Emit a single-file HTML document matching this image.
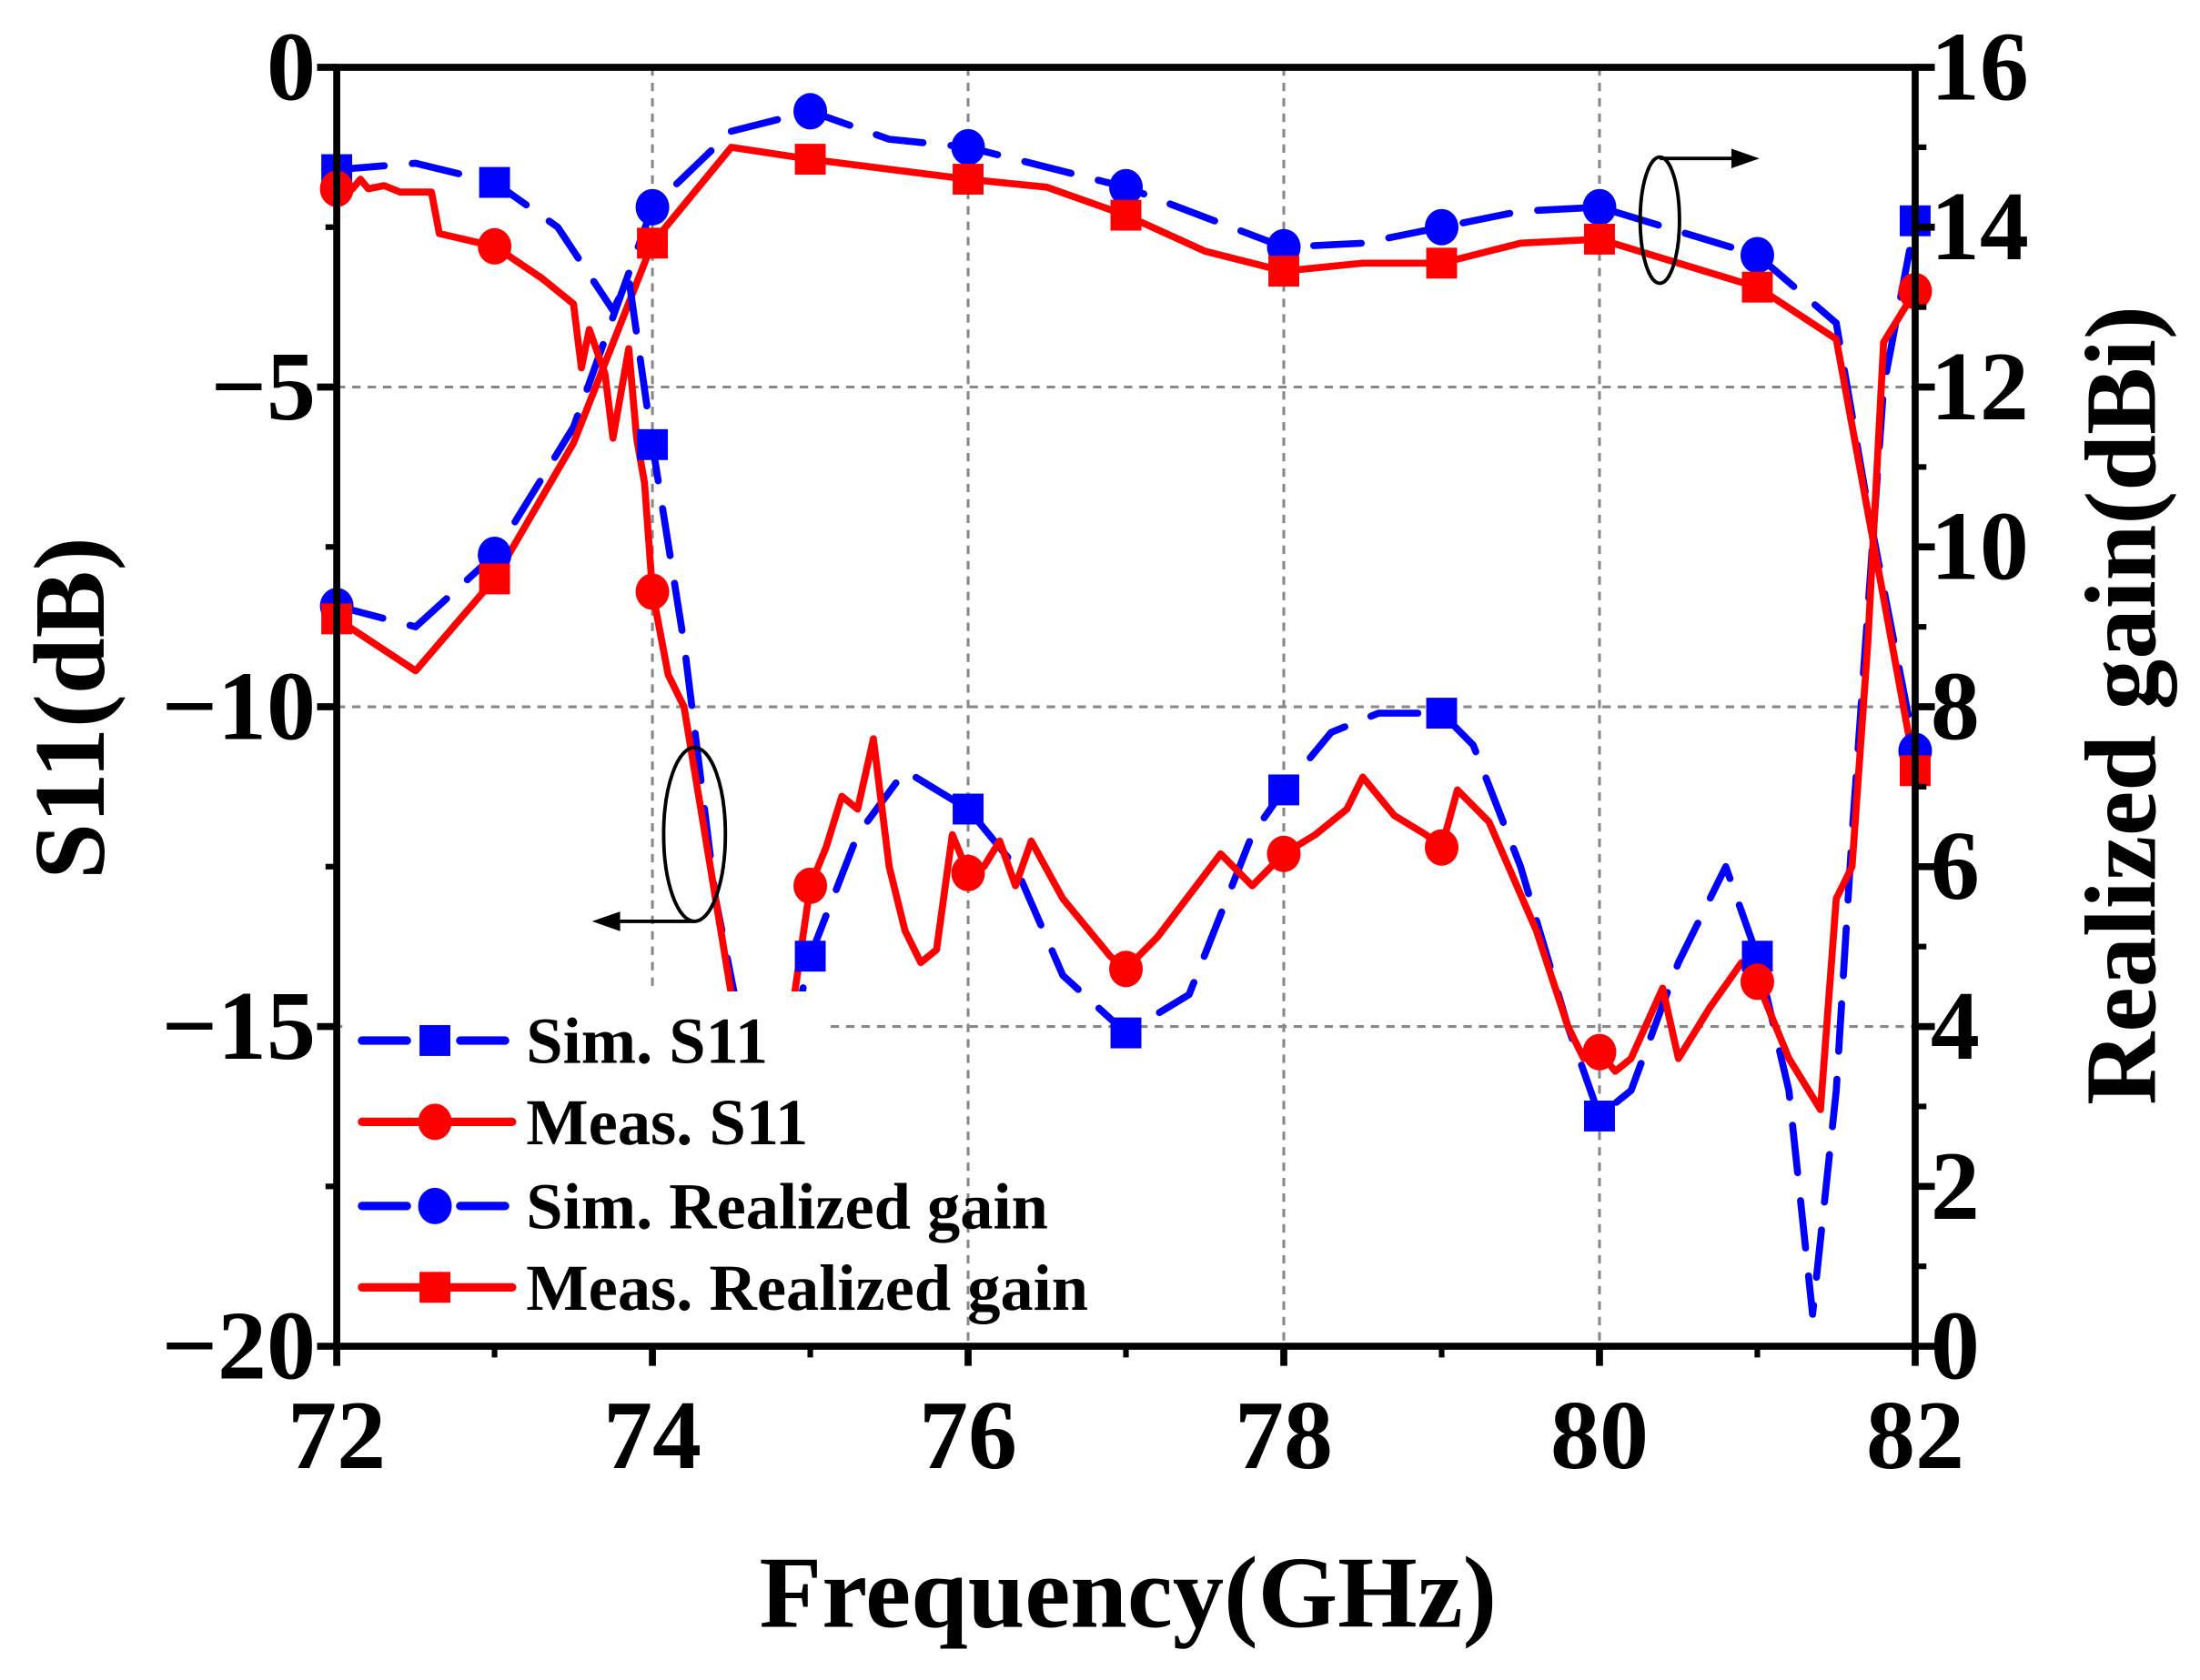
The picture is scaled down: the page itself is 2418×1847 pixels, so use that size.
<!DOCTYPE html>
<html><head><meta charset="utf-8"><style>
html,body{margin:0;padding:0;background:#fff;}
svg{display:block;}
text{font-family:"Liberation Serif",serif;font-weight:bold;fill:#000;}
</style></head><body>
<svg id="s" width="2418" height="1847" viewBox="0 0 1568 1198" preserveAspectRatio="none" xmlns="http://www.w3.org/2000/svg">
<g id="grid" stroke="#888" stroke-width="2" stroke-dasharray="6,5"></g>
<g id="series"></g>
<rect x="244" y="707" width="346" height="251" fill="#fff"/>
<g id="legend"></g>
<g id="axes" stroke="#000" fill="none"></g>
<g id="labels"></g>
<ellipse cx="495" cy="595" rx="22" ry="62" fill="none" stroke="#000" stroke-width="2.5"/>
<line x1="495" y1="657" x2="440" y2="657" stroke="#000" stroke-width="2.5"/>
<polygon points="422,657 442,650 442,664" fill="#000"/>
<ellipse cx="1183" cy="157" rx="14" ry="45" fill="none" stroke="#000" stroke-width="2.5"/>
<line x1="1183" y1="113" x2="1236" y2="113" stroke="#000" stroke-width="2.5"/>
<polygon points="1254,113 1234,106 1234,120" fill="#000"/>
<text x="50" y="505" font-size="72" text-anchor="middle" transform="rotate(-90 50 505)" dy="24">S11(dB)</text>
<text x="1512" y="503" font-size="72" text-anchor="middle" transform="rotate(-90 1512 503)" dy="24">Realized gain(dBi)</text>
<text x="804" y="1160" font-size="73" text-anchor="middle">Frequency(GHz)</text>
</svg>
<script>
const NS="http://www.w3.org/2000/svg";
const L=240,R=1365,T=48,B=960;
const X=f=>L+(f-72)*112.5, YS=d=>T-d*45.6, YG=g=>B-g*57;
function el(p,tag,a,txt){const e=document.createElementNS(NS,tag);for(const k in a)e.setAttribute(k,a[k]);if(txt!==undefined)e.textContent=txt;document.getElementById(p).appendChild(e);return e;}
[74,76,78,80].forEach(f=>el("grid","line",{x1:X(f),y1:T,x2:X(f),y2:B}));
[-5,-10,-15].forEach(d=>el("grid","line",{x1:L,y1:YS(d),x2:R,y2:YS(d)}));
const simS=[[72,-1.6],[72.5,-1.5],[73,-1.8],[73.4,-2.5],[73.75,-3.8],[73.85,-3.3],[74,-5.9],[74.2,-9],[74.4,-13],[74.6,-15.5],[74.9,-15],[75,-13.9],[75.3,-12],[75.6,-11],[76,-11.6],[76.3,-12.5],[76.6,-14.2],[77,-15.1],[77.4,-14.5],[77.8,-12],[78,-11.3],[78.3,-10.4],[78.6,-10.1],[79,-10.1],[79.2,-10.6],[79.5,-12.5],[79.8,-15],[80,-16.4],[80.2,-16],[80.5,-14],[80.8,-12.5],[81,-13.9],[81.2,-16],[81.35,-19.5],[81.5,-16],[81.6,-12],[81.8,-5],[82,-2.4]];
const meaS=[[72,-1.9],[72.05,-1.8],[72.1,-1.9],[72.15,-1.75],[72.2,-1.9],[72.3,-1.85],[72.4,-1.95],[72.6,-1.95],[72.65,-2.6],[73,-2.8],[73.3,-3.3],[73.5,-3.7],[73.55,-4.7],[73.6,-4.1],[73.7,-4.8],[73.75,-5.8],[73.85,-4.4],[73.9,-5.8],[73.95,-6.5],[74,-8.2],[74.1,-9.5],[74.2,-10],[74.3,-11.5],[74.4,-13],[74.5,-14.5],[74.6,-16],[74.8,-16],[74.9,-14.5],[75,-12.8],[75.1,-12.2],[75.2,-11.4],[75.3,-11.6],[75.4,-10.5],[75.5,-12.5],[75.6,-13.5],[75.7,-14],[75.8,-13.8],[75.9,-12],[76,-12.6],[76.1,-12.5],[76.2,-12.1],[76.3,-12.8],[76.4,-12.1],[76.6,-13],[76.9,-13.9],[77,-14.1],[77.2,-13.6],[77.6,-12.3],[77.8,-12.8],[78,-12.3],[78.2,-12],[78.4,-11.6],[78.5,-11.1],[78.7,-11.7],[78.9,-12],[79,-12.2],[79.1,-11.3],[79.3,-11.8],[79.6,-13.5],[79.8,-15],[79.9,-15.5],[80,-15.4],[80.1,-15.7],[80.2,-15.5],[80.4,-14.4],[80.5,-15.5],[80.7,-14.7],[80.9,-14],[81,-14.3],[81.1,-14.9],[81.2,-15.5],[81.4,-16.3],[81.5,-13],[81.6,-12.5],[81.7,-9],[81.8,-4.3],[82,-3.5]];
const simG=[[72,9.26],[72.5,9],[73,9.9],[73.5,11.5],[74,14.25],[74.5,15.2],[75,15.45],[75.5,15.1],[76,15.0],[77,14.5],[78,13.75],[78.5,13.8],[79,14.0],[79.5,14.2],[80,14.25],[81,13.65],[81.5,12.8],[81.7,10.5],[82,7.45]];
const meaG=[[72,9.1],[72.5,8.45],[73,9.6],[73.5,11.3],[74,13.8],[74.5,15.0],[75,14.85],[76,14.6],[76.5,14.5],[77,14.15],[77.5,13.7],[78,13.45],[78.5,13.55],[79,13.55],[79.5,13.8],[80,13.85],[81,13.25],[81.5,12.6],[82,7.2]];
function path(d,Y,col,dash){el("series","polyline",{points:d.map(p=>X(p[0])+","+Y(p[1])).join(" "),fill:"none",stroke:col,"stroke-width":5,"stroke-linejoin":"round","stroke-linecap":"round","stroke-dasharray":dash?"34,20":"none"});}
function mk(g,x,y,col,sq){if(sq)el(g,"rect",{x:x-11,y:y-11,width:22,height:22,fill:col});else el(g,"ellipse",{cx:x,cy:y,rx:12,ry:13,fill:col});}
path(simG,YG,"#0000ff",true);path(meaG,YG,"#ff0000",false);
path(simS,YS,"#0000ff",true);path(meaS,YS,"#ff0000",false);
const v=(d,f)=>{for(let i=0;i<d.length-1;i++)if(d[i][0]<=f&&d[i+1][0]>=f){const t=(f-d[i][0])/(d[i+1][0]-d[i][0]||1);return d[i][1]+t*(d[i+1][1]-d[i][1]);}return d[d.length-1][1];};
for(let f=72;f<=82;f++){
 mk("series",X(f),YS(v(simS,f)),"#0000ff",true);
 mk("series",X(f),YG(v(simG,f)),"#0000ff",false);
 mk("series",X(f),YG(v(meaG,f)),"#ff0000",true);
 mk("series",X(f),YS(v(meaS,f)),"#ff0000",false);
}
const leg=[["Sim. S11","#0000ff",true,true,742],["Meas. S11","#ff0000",false,false,800],["Sim. Realized gain","#0000ff",true,false,860],["Meas. Realized gain","#ff0000",false,true,918]];
leg.forEach(([t,c,d,sq,y])=>{
 if(d){el("legend","line",{x1:258,y1:y,x2:290,y2:y,stroke:c,"stroke-width":6,"stroke-linecap":"round"});el("legend","line",{x1:328,y1:y,x2:360,y2:y,stroke:c,"stroke-width":6,"stroke-linecap":"round"});}
 else el("legend","line",{x1:258,y1:y,x2:365,y2:y,stroke:c,"stroke-width":6,"stroke-linecap":"round"});
 mk("legend",310,y,c,sq);
 el("legend","text",{x:375,y:y+16,"font-size":47},t);
});
el("axes","rect",{x:L,y:T,width:R-L,height:B-T,"stroke-width":5});
for(let d=0;d>=-20;d-=2.5){const maj=d%5===0;el("axes","line",{x1:L,y1:YS(d),x2:L-(maj?14:8),y2:YS(d),"stroke-width":maj?5:4});
 if(maj)el("labels","text",{x:225,y:YS(d)+23,"font-size":70,"text-anchor":"end"},d===0?"0":"\u2212"+(-d));}
for(let g=0;g<=16;g++){const maj=g%2===0;el("axes","line",{x1:R,y1:YG(g),x2:R+(maj?14:8),y2:YG(g),"stroke-width":maj?5:4});
 if(maj)el("labels","text",{x:1376,y:YG(g)+23,"font-size":70},String(g));}
for(let f=72;f<=82;f++){const maj=f%2===0;el("axes","line",{x1:X(f),y1:B,x2:X(f),y2:B+(maj?14:8),"stroke-width":maj?5:4});
 if(maj)el("labels","text",{x:X(f),y:1047,"font-size":70,"text-anchor":"middle"},String(f));}
</script>
</body></html>
